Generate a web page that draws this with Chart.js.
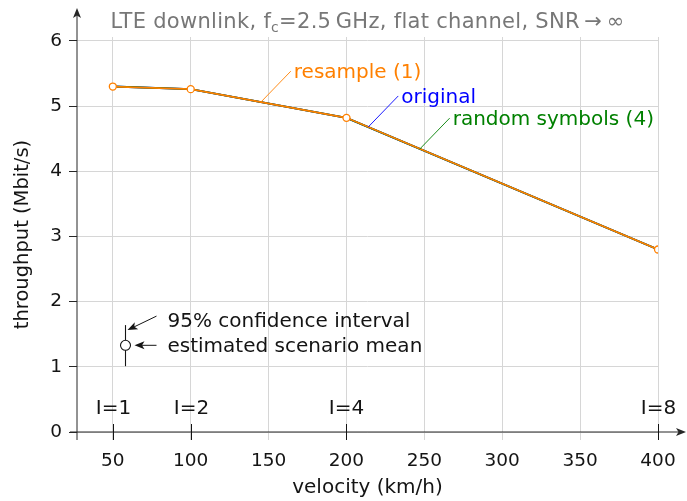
<!DOCTYPE html>
<html>
<head>
<meta charset="utf-8">
<script src="https://cdn.jsdelivr.net/npm/chart.js@4/dist/chart.umd.min.js"></script>
<style>
  html, body { margin: 0; padding: 0; background: #fff; }
  #wrap { width: 687px; height: 501px; }
</style>
</head>
<body>
<div id="wrap"><canvas id="chart" width="687" height="501"></canvas></div>
<script>
// Throughput versus velocity for the three channel-generation methods
const velocity = [50, 100, 200, 400];
const original = [5.30, 5.26, 4.82, 2.80];
const resample = [5.30, 5.26, 4.82, 2.80];
const randomSymbols = [5.30, 5.26, 4.82, 2.80];

const velocityTicks = [50, 100, 150, 200, 250, 300, 350, 400];
const throughputTicks = [0, 1, 2, 3, 4, 5, 6];

// interpolation factor used at each simulated velocity
const interpolationLabels = ['I=1', 'I=2', 'I=4', 'I=8'];
const interpolationVelocity = [50, 100, 200, 400];

// series names pinned onto the curve (velocity, throughput of the pin foot)
const pinNames = ['resample (1)', 'original', 'random symbols (4)'];
const pinVelocity = [145, 214, 247];
const pinThroughput = [5.06, 4.68, 4.34];

// explanatory marker: velocity, mean, lower and upper confidence bound
const keyVelocity = 58;
const keyMean = 1.33;
const keyLow = 1.01;
const keyHigh = 1.64;
const keyTexts = ['95% confidence interval', 'estimated scenario mean'];

const FONT = '"DejaVu Sans", sans-serif';
const ORANGE = '#ff8000';
const BLUE = '#0000ff';
const GREEN = '#008000';
const GRID = '#d6d6d6';
const INK = '#141414';
const AXIS = '#262626';

const pinColors = [ORANGE, BLUE, GREEN];

function points(ys) {
  return velocity.map((v, i) => ({ x: v, y: ys[i] }));
}

function arrowHead(ctx, x0, y0, x1, y1, len, half) {
  const a = Math.atan2(y1 - y0, x1 - x0);
  ctx.beginPath();
  ctx.moveTo(x1, y1);
  ctx.lineTo(x1 - len * Math.cos(a) + half * Math.sin(a), y1 - len * Math.sin(a) - half * Math.cos(a));
  ctx.lineTo(x1 - len * 0.75 * Math.cos(a), y1 - len * 0.75 * Math.sin(a));
  ctx.lineTo(x1 - len * Math.cos(a) - half * Math.sin(a), y1 - len * Math.sin(a) + half * Math.cos(a));
  ctx.closePath();
  ctx.fill();
}

function arrow(ctx, x0, y0, x1, y1, len, half) {
  const a = Math.atan2(y1 - y0, x1 - x0);
  ctx.beginPath();
  ctx.moveTo(x0, y0);
  ctx.lineTo(x1 - len * 0.6 * Math.cos(a), y1 - len * 0.6 * Math.sin(a));
  ctx.stroke();
  arrowHead(ctx, x0, y0, x1, y1, len, half);
}

const decorations = {
  id: 'decorations',
  beforeDatasetsDraw(chart) {
    const { ctx, chartArea: area, scales: { x } } = chart;
    const x0 = area.left;
    const y0 = area.bottom;
    ctx.save();
    ctx.strokeStyle = AXIS;
    ctx.fillStyle = AXIS;
    ctx.lineWidth = 1;
    // vertical axis with arrow
    ctx.beginPath();
    ctx.moveTo(x0, y0 + 8);
    ctx.lineTo(x0, 14);
    ctx.stroke();
    arrowHead(ctx, x0, y0, x0, 8, 10, 4);
    // horizontal axis with arrow
    ctx.beginPath();
    ctx.moveTo(x0 - 7, y0);
    ctx.lineTo(680, y0);
    ctx.stroke();
    arrowHead(ctx, x0, y0, 686, y0, 10, 4);

    // interpolation factor marks
    ctx.strokeStyle = INK;
    ctx.fillStyle = INK;
    ctx.font = `20px ${FONT}`;
    ctx.textAlign = 'center';
    ctx.textBaseline = 'alphabetic';
    interpolationVelocity.forEach((v, i) => {
      const px = Math.round(x.getPixelForValue(v)) + 0.5;
      ctx.beginPath();
      ctx.moveTo(px, y0 - 8);
      ctx.lineTo(px, y0 + 8);
      ctx.stroke();
      ctx.fillText(interpolationLabels[i], px, y0 - 18);
    });

    // title with subscript
    const parts = [
      { t: 'LTE downlink, f', sub: false },
      { t: 'c', sub: true },
      { t: '=2.5\u2009GHz, flat channel, SNR\u2009\u2192\u2009\u221e', sub: false }
    ];
    const mainFont = `21px ${FONT}`;
    const subFont = `14px ${FONT}`;
    ctx.letterSpacing = '0.3px';
    let total = 0;
    parts.forEach(p => {
      ctx.font = p.sub ? subFont : mainFont;
      p.w = ctx.measureText(p.t).width;
      total += p.w;
    });
    let tx = (area.left + area.right) / 2 - total / 2;
    ctx.fillStyle = '#777777';
    ctx.textAlign = 'left';
    parts.forEach(p => {
      ctx.font = p.sub ? subFont : mainFont;
      ctx.fillText(p.t, tx, p.sub ? 32 : 28);
      tx += p.w;
    });
    ctx.restore();
  },
  afterDatasetsDraw(chart) {
    const { ctx, scales: { x, y } } = chart;
    ctx.save();
    // series name pins
    ctx.font = `20px ${FONT}`;
    ctx.textAlign = 'left';
    ctx.textBaseline = 'alphabetic';
    pinNames.forEach((name, i) => {
      const px = x.getPixelForValue(pinVelocity[i]);
      const py = y.getPixelForValue(pinThroughput[i]);
      ctx.strokeStyle = pinColors[i];
      ctx.fillStyle = pinColors[i];
      ctx.lineWidth = 0.9;
      ctx.beginPath();
      ctx.moveTo(px, py);
      ctx.lineTo(px + 30, py - 31);
      ctx.stroke();
      ctx.fillText(name, px + 33, py - 24);
    });

    // key explaining mean marker and confidence bar
    const kx = Math.round(x.getPixelForValue(keyVelocity)) + 0.5;
    const km = y.getPixelForValue(keyMean);
    const kl = y.getPixelForValue(keyLow);
    const kh = y.getPixelForValue(keyHigh);
    ctx.strokeStyle = INK;
    ctx.fillStyle = INK;
    ctx.lineWidth = 1.1;
    ctx.beginPath();
    ctx.moveTo(kx, kl);
    ctx.lineTo(kx, kh);
    ctx.stroke();
    ctx.beginPath();
    ctx.arc(kx, km, 5, 0, Math.PI * 2);
    ctx.fillStyle = '#fff';
    ctx.fill();
    ctx.stroke();
    ctx.fillStyle = INK;
    ctx.lineWidth = 1;
    arrow(ctx, kx + 31, kh - 9, kx + 2, kh + 5, 10, 4);
    arrow(ctx, kx + 31, km, kx + 9, km, 10, 4);
    ctx.fillText(keyTexts[0], kx + 42, kh + 2);
    ctx.fillText(keyTexts[1], kx + 42, km + 7);
    ctx.restore();
  }
};

new Chart(document.getElementById('chart'), {
  type: 'line',
  data: {
    datasets: [
      {
        label: 'resample (1)',
        data: points(resample),
        borderColor: ORANGE,
        borderWidth: 1.7,
        pointRadius: 3.5,
        pointBorderWidth: 1.3,
        pointBorderColor: ORANGE,
        pointBackgroundColor: '#fff',
        tension: 0
      },
      {
        label: 'random symbols (4)',
        data: points(randomSymbols),
        borderColor: GREEN,
        borderWidth: 1.9,
        pointRadius: 0,
        tension: 0
      },
      {
        label: 'original',
        data: points(original),
        borderColor: BLUE,
        borderWidth: 1.9,
        pointRadius: 0,
        tension: 0
      }
    ]
  },
  options: {
    responsive: false,
    animation: false,
    devicePixelRatio: 1,
    layout: { padding: { top: 37, right: 29, left: 0, bottom: 0 } },
    plugins: {
      legend: { display: false },
      title: { display: false },
      tooltip: { enabled: false }
    },
    scales: {
      x: {
        type: 'linear',
        min: 27,
        max: 400,
        afterBuildTicks: s => { s.ticks = velocityTicks.map(v => ({ value: v })); },
        afterFit: s => { s.height = 69; },
        border: { display: false },
        grid: { color: GRID, lineWidth: 1, tickLength: 8, tickColor: GRID },
        ticks: { font: { family: FONT, size: 18.5 }, color: INK, padding: 10, maxRotation: 0, autoSkip: false },
        title: { display: true, text: 'velocity (km/h)', font: { family: FONT, size: 20 }, color: INK, padding: { top: 0, bottom: 1 } }
      },
      y: {
        type: 'linear',
        min: 0,
        max: 6.06,
        afterBuildTicks: s => { s.ticks = throughputTicks.map(v => ({ value: v })); },
        afterFit: s => { s.width = 77; },
        border: { display: false },
        grid: { color: GRID, lineWidth: 1, tickLength: 8, tickColor: AXIS },
        ticks: { font: { family: FONT, size: 18.5 }, color: INK, padding: 7 },
        title: { display: true, text: 'throughput (Mbit/s)', font: { family: FONT, size: 19.5 }, color: INK, padding: { top: 11, bottom: 0 } }
      }
    }
  },
  plugins: [decorations]
});
</script>
</body>
</html>
